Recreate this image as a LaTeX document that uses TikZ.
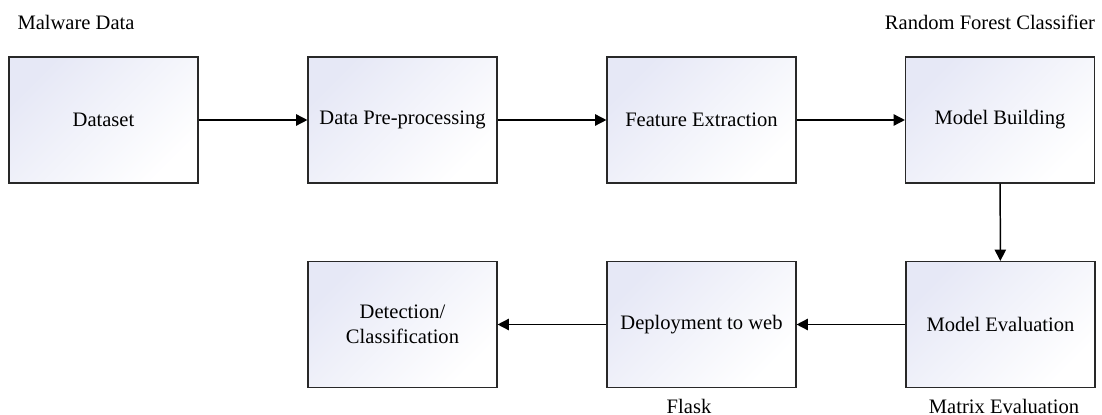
\documentclass[tikz,border=0pt]{standalone}
\usepackage{fontspec}
\setmainfont{Liberation Serif}
\usepackage{tikz}
\usetikzlibrary{positioning,arrows.meta}

\definecolor{boxtint}{RGB}{230,232,246}
\definecolor{boxline}{RGB}{40,40,40}

\begin{document}
\begin{tikzpicture}[x=0.02cm,y=-0.02cm,->,>={Triangle[length=6.5pt,width=6.5pt]},line width=0.85pt,
	font=\fontsize{11.7}{14}\selectfont,
	stagebox/.style={rectangle,draw=boxline,line width=0.65pt,minimum width=3.78cm,minimum height=2.52cm,
		top color=boxtint,bottom color=white,shading angle=45,align=center,inner sep=2pt},
	notelabel/.style={inner sep=0pt}]
	
	\useasboundingbox (0,0) rectangle (1102,415);
	
	% top row
	\node [stagebox] (0) at (103.5, 120) {Dataset};
	\node [stagebox] (1) at (402.5, 120) {Data Pre-processing};
	\node [stagebox] (2) at (701.5, 120) {Feature Extraction};
	\node [stagebox] (3) at (1000, 120) {Model Building};
	% bottom row
	\node [stagebox] (4) at (1000.5, 324.5) {Model Evaluation};
	\node [stagebox] (5) at (701.5, 324.5) {Deployment to web};
	\node [stagebox] (6) at (402.5, 324.5) {Detection/\\Classification};
	
	% side notes
	\node [notelabel] (n0) at (76, 22) {Malware Data};
	\node [notelabel] (n3) at (990, 22) {Random Forest Classifier};
	\node [notelabel] (n5) at (689, 406) {Flask};
	\node [notelabel] (n4) at (1004, 406) {Matrix Evaluation};
	
	\draw (0) to (1);
	\draw (1) to (2);
	\draw (2) to (3);
	\draw (3) to (4);
	\draw (4) to (5);
	\draw (5) to (6);
\end{tikzpicture}
\end{document}
